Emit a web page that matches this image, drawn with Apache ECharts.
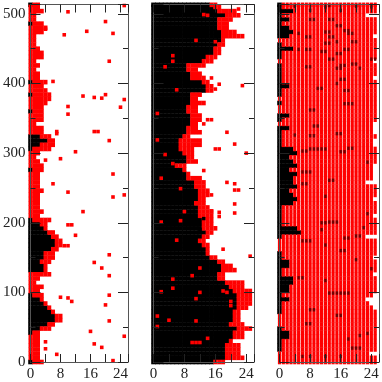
<!DOCTYPE html>
<html>
<head>
<meta charset="utf-8">
<style>
  html, body { margin: 0; padding: 0; background: #fff; }
  #chart { width: 382px; height: 382px; }
</style>
</head>
<body>
<div id="chart"></div>
<script src="https://cdn.jsdelivr.net/npm/echarts@6/dist/echarts.min.js"></script>
<script>
// row positions on the y axis
var rowY = [0,6,12,18,24,30,36,42,48,54,60,66,72,78,84,90,96,102,108,114,120,126,132,138,144,150,156,162,168,174,180,186,192,198,204,210,216,222,228,234,240,246,
  252,258,264,270,276,282,288,294,300,306,312,318,324,330,336,342,348,354,360,366,372,378,384,390,396,402,408,414,420,426,432,438,444,450,456,462,468,474,480,486,492,498,504,510,513];

// last black / last red column for each row, -1 = no black in that row
var blackA = [0,-1,-1,-1,-1,-1,-1,0,2,4,6,6,5,4,3,2,0,-1,-1,-1,-1,-1,3,3,2,3,3,5,6,6,5,4,3,2,0,-1,-1,-1,-1,-1,-1,-1,
  -1,-1,-1,-1,0,-1,-1,-1,-1,0,2,4,2,-1,-1,-1,-1,-1,0,-1,-1,-1,0,-1,-1,0,-1,-1,-1,-1,-1,-1,-1,-1,-1,-1,-1,-1,-1,0,-1,-1,-1,-1,0];
var redA = [3,2,2,2,2,2,2,2,5,6,8,8,6,5,4,3,3,2,3,1,2,5,4,4,5,6,6,7,8,8,7,6,4,4,5,2,3,2,2,2,2,3,
  2,2,2,2,3,3,2,1,2,5,6,6,5,3,3,1,3,3,3,3,4,5,5,4,3,4,2,2,1,2,1,3,3,2,1,1,1,3,4,3,1,1,3,2,2];
var blackB = [15,18,18,18,18,19,20,20,21,19,20,20,20,21,21,21,21,20,19,18,16,16,17,17,16,14,13,13,12,11,12,13,12,12,12,11,11,11,10,11,11,11,
  10,10,8,8,7,5,8,8,7,6,6,6,7,8,8,9,9,9,8,8,9,9,9,13,13,12,9,9,8,8,12,13,15,15,16,17,17,17,16,16,16,18,16,15,14];
var redB = [18,23,22,22,22,20,23,23,25,23,22,22,22,24,25,25,25,25,23,23,18,18,21,20,18,16,14,14,14,13,14,15,16,15,15,15,15,14,13,13,14,14,
  13,13,12,9,8,8,11,10,10,10,12,12,9,12,11,11,12,12,11,11,13,11,12,15,15,14,13,12,11,13,15,16,17,17,18,18,23,21,19,19,20,22,21,17,16];
var blackC = [-1,-1,-1,0,0,0,2,2,0,-1,-1,-1,0,0,0,2,0,2,2,3,3,0,0,2,2,0,0,-1,-1,-1,0,5,4,0,0,0,0,0,3,4,3,2,
  4,3,3,4,2,4,3,2,4,3,0,0,0,0,2,-1,0,2,-1,-1,0,-1,0,0,2,0,0,0,0,0,-1,0,0,3,0,-1,2,3,2,0,2,0,3,0,0];
var redC = [25,25,23,25,25,25,25,25,25,25,25,25,25,24,23,22,24,25,25,25,25,24,25,25,25,24,25,25,25,25,22,25,25,25,25,24,25,25,25,24,25,25,
  25,22,24,24,24,24,25,25,25,25,24,24,25,24,24,24,25,25,25,25,25,25,25,25,25,25,24,25,25,25,24,25,25,25,25,25,24,25,25,25,25,22,25,25,25];

// single red cells off the main profile [column, y]
var extraRedA = [[25,512],[10,503],[20,489],[15,475],[4,478],[9,470],[22,472],[21,432],[6,403],[14,382],[17,380],[19,379],[20,384],[25,377],[24,366],[10,367],[10,356],
  [17,331],[18,331],[7,331],[7,328],[21,318],[12,302],[8,292],[4,290],[22,270],[6,256],[10,244],[22,237],[25,240],[14,216],[10,197],[11,197],[12,182],[9,167],[10,167],
  [21,154],[17,143],[19,135],[21,124],[21,96],[8,93],[10,92],[11,87],[20,82],[21,59],[16,44],[25,37],[4,29],[17,26],[19,21],[4,19],[7,11],[22,2]];
var extraRedB = [[22,507],[13,499],[14,498],[11,462],[16,460],[5,440],[5,432],[3,424],[15,408],[17,399],[23,397],[6,391],[16,392],[1,357],[14,348],[15,348],[13,342],[19,330],
  [21,313],[16,306],[17,306],[24,300],[1,319],[3,298],[5,285],[13,275],[2,264],[19,258],[21,256],[7,249],[21,247],[22,247],[15,240],[21,227],[8,216],[15,217],[17,215],[17,209],
  [21,214],[7,203],[2,201],[6,175],[18,162],[25,152],[12,135],[10,124],[5,119],[5,106],[12,100],[2,101],[11,91],[18,102],[19,100],[20,87],[20,81],[1,66],[4,60],[11,59],[1,51],
  [14,34],[10,28],[11,28],[12,28]];
var extraRedC = [];

// single black cells sitting on top of the red
var extraBlackA = [];
var extraBlackB = [[13,206],[12,190]];
var extraBlackC = [[4,511],[8,505],[16,505],[13,512],[12,510],[20,511],[24,510],[8,492],[9,492],[13,492],[14,492],[15,483],[16,483],[17,476],[18,476],[12,474],[13,474],[18,472],[19,472],
  [5,472],[7,467],[8,467],[13,467],[14,467],[12,458],[13,458],[15,460],[19,460],[20,460],[7,449],[8,449],[11,446],[12,446],[5,449],[15,443],[16,443],[17,449],[18,449],[13,435],[14,435],
  [24,435],[25,435],[19,428],[20,428],[16,426],[17,426],[21,422],[7,424],[8,424],[15,422],[16,422],[16,406],[17,406],[15,400],[10,393],[11,393],[17,390],[18,390],[17,371],[18,371],[19,371],
  [8,362],[9,362],[9,339],[10,339],[8,325],[9,325],[15,328],[16,328],[4,326],[10,306],[11,306],[12,306],[9,306],[6,303],[7,303],[8,306],[18,307],[19,307],[16,302],[17,302],[23,287],
  [6,273],[7,273],[8,273],[13,261],[14,261],[6,256],[7,256],[12,238],[23,213],[11,200],[12,200],[13,201],[14,201],[15,201],[11,190],[22,193],[6,174],[7,174],[8,174],[17,178],[18,178],
  [20,181],[21,181],[12,168],[16,160],[17,160],[20,147],[24,134],[5,121],[6,121],[12,117],[13,99],[14,99],[15,99],[16,99],[17,99],[18,99],[8,75],[9,75],[15,67],[16,67],[7,55],[8,55],
  [21,38],[23,41],[18,33],[19,20],[20,20],[21,20],[6,8],[8,8],[12,8],[16,8]];

var xTicks = ['0', '8', '16', '24'];

var panels = [
  { left: 27.5, black: blackA, red: redA, extraRed: extraRedA, extraBlack: extraBlackA, redW: 4 },
  { left: 153.5, black: blackB, red: redB, extraRed: extraRedB, extraBlack: extraBlackB, redW: 4 },
  { left: 279.5, black: blackC, red: redC, extraRed: extraRedC, extraBlack: extraBlackC, redW: 3.2 }
];

var frame = { color: '#555', width: 1 };
var tickColor = '#222';
var grids = [], xAxes = [], yAxes = [], series = [];

panels.forEach(function (p, i) {
  grids.push({ left: p.left, top: 4.5, width: 100.5, height: 361 });

  ['bottom', 'top'].forEach(function (pos) {
    xAxes.push({
      gridIndex: i, type: 'value', position: pos, min: 0, max: 26, interval: 4, z: 5,
      splitLine: { show: false },
      axisLine: { onZero: false, lineStyle: frame },
      axisTick: { inside: true, length: 8, lineStyle: { color: tickColor, width: 1 } },
      axisLabel: {
        show: pos === 'bottom', margin: 5,
        fontFamily: 'Liberation Serif', fontSize: 15, color: '#222',
        formatter: function (v) { return xTicks.indexOf(String(v)) >= 0 ? String(v) : ''; }
      }
    });
  });

  ['left', 'right'].forEach(function (pos) {
    yAxes.push({
      gridIndex: i, type: 'value', position: pos, min: 0, max: 513.5, interval: 100, z: 5,
      splitLine: { show: false },
      axisLine: { onZero: false, lineStyle: frame },
      axisTick: { inside: true, length: 10, lineStyle: { color: tickColor, width: 1 } },
      minorTick: { show: true, splitNumber: 2, length: 5, lineStyle: { color: tickColor, width: 1 } },
      axisLabel: {
        show: pos === 'left' && i === 0, margin: 5,
        fontFamily: 'Liberation Serif', fontSize: 15, color: '#222',
        formatter: function (v) { return v % 100 === 0 ? String(v) : ''; }
      }
    });
  });

  var blackCells = [], redCells = [];
  rowY.forEach(function (y, r) {
    for (var x = 0; x <= p.black[r]; x++) blackCells.push([x, y]);
    for (var x2 = p.black[r] + 1; x2 <= p.red[r]; x2++) redCells.push([x2, y]);
  });

  function addCells(name, cells, color, size) {
    series.push({
      name: name, type: 'scatter', xAxisIndex: i * 2, yAxisIndex: i * 2,
      symbol: 'rect', symbolSize: size, clip: false, silent: true,
      itemStyle: { color: color, opacity: 1 }, data: cells
    });
  }
  addCells('black', blackCells, '#000', [4.6, 4.6]);
  addCells('red', redCells, '#ff0000', [p.redW, 4.6]);
  addCells('redExtra', p.extraRed, '#ff0000', [3.6, 3.6]);
  if (i === 2) addCells('blackExtra', p.extraBlack, '#700000', [2.4, 3.4]);
  else addCells('blackExtra', p.extraBlack, '#000', [3.4, 3.4]);
});

var myChart = echarts.init(document.getElementById('chart'), null, { renderer: 'canvas' });
myChart.setOption({
  animation: false,
  backgroundColor: '#fff',
  grid: grids,
  xAxis: xAxes,
  yAxis: yAxes,
  series: series
});
</script>
</body>
</html>
